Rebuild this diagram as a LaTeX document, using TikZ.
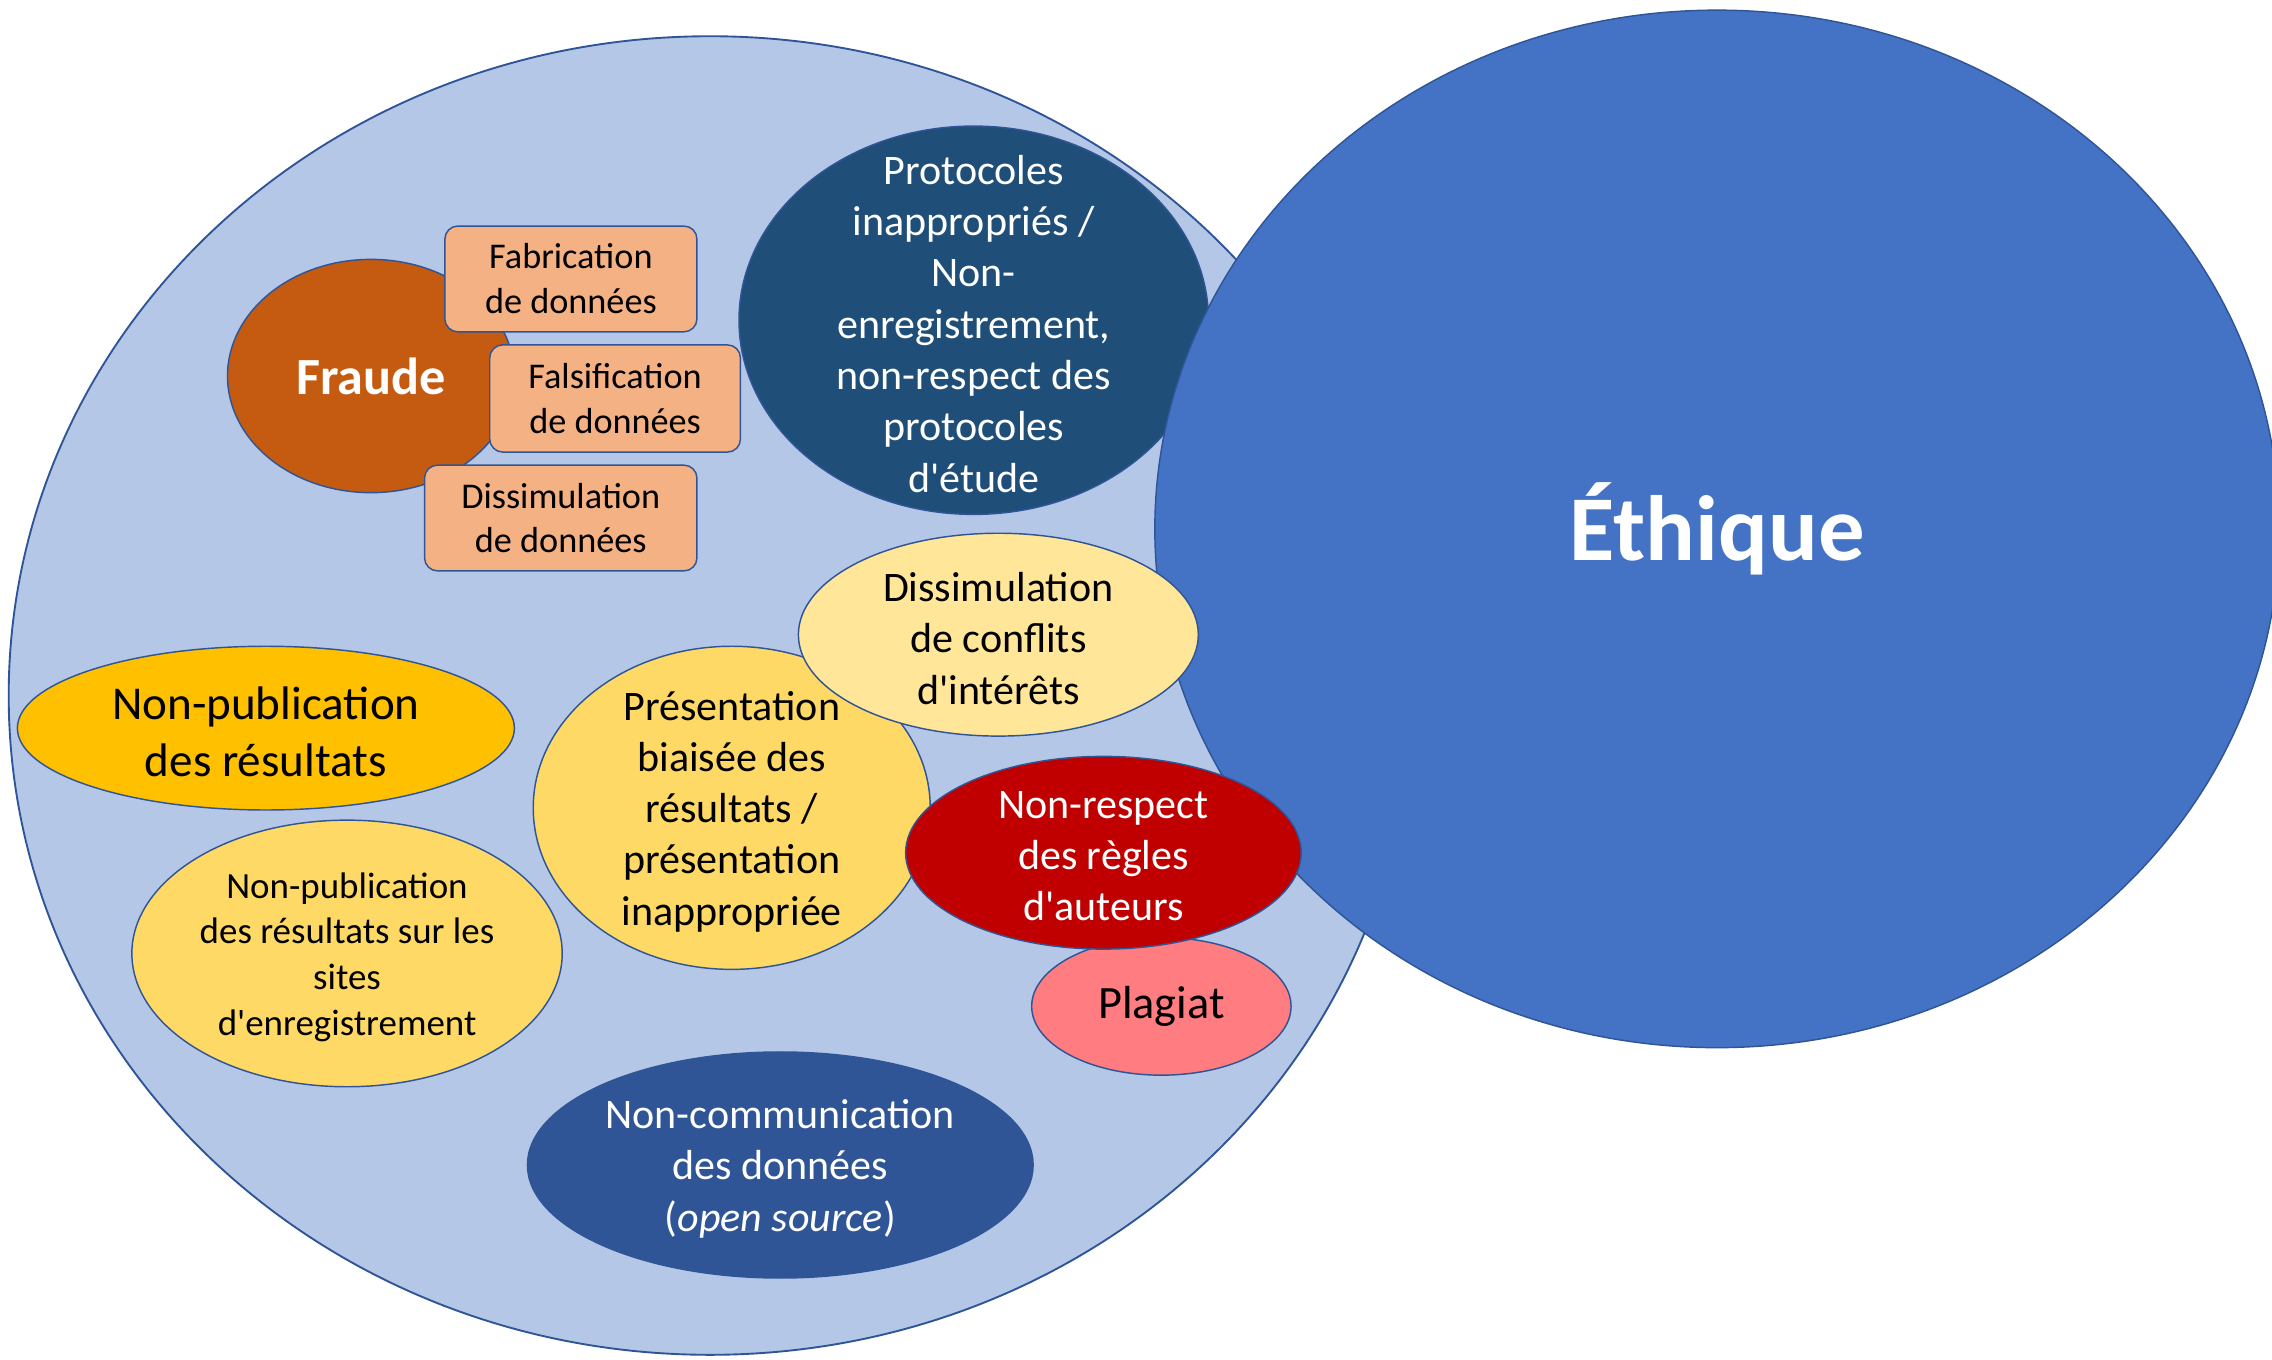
\documentclass[tikz,border=0pt]{standalone}
\usepackage{fontspec}
\setmainfont{Carlito}[Ligatures=TeXOff]
\usetikzlibrary{shapes.geometric}
\definecolor{bgblue}{HTML}{B4C7E7}
\definecolor{bord}{HTML}{2F5597}
\definecolor{eth}{HTML}{4472C4}
\definecolor{fraudec}{HTML}{C55A11}
\definecolor{boxc}{HTML}{F4B183}
\definecolor{protoc}{HTML}{1F4E79}
\definecolor{confc}{HTML}{FFE699}
\definecolor{npubc}{HTML}{FFC000}
\definecolor{presc}{HTML}{FFD966}
\definecolor{nrespc}{HTML}{C00000}
\definecolor{plagc}{HTML}{FF7C80}
\definecolor{ncomc}{HTML}{2F5597}
\newcommand{\fBox}{\fontsize{25}{31}\selectfont}
\newcommand{\fMid}{\fontsize{29}{35.4}\selectfont}
\newcommand{\fBig}{\fontsize{32.5}{39.6}\selectfont}
\newcommand{\fSites}{\fontsize{25.5}{31.5}\selectfont}
\tikzset{
  bub/.style={ellipse, draw=bord, line width=1pt, inner sep=0pt},
  lbl/.style={align=center, inner sep=0pt, yshift=-2.5pt},
  datbox/.style={rectangle, rounded corners=9pt, draw=bord, line width=1pt, fill=boxc, inner sep=0pt, align=center, font=\fBox},
}
\begin{document}
\begin{tikzpicture}[x=1pt,y=-1pt]
\useasboundingbox (0,0) rectangle (1568,938);
\clip (0,0) rectangle (1568,938);
% big light blue area
\node[bub, fill=bgblue, line width=1.3pt, minimum width=968, minimum height=910] (area) at (490,480) {};
% Fraude
\node[bub, fill=fraudec, minimum width=198, minimum height=161, text=white, font=\fontsize{36}{43}\selectfont\bfseries] (fraude) at (256,259.5) {Fraude};
% boxes
\node[datbox, minimum width=174, minimum height=73] (fab) at (394,192.5) {Fabrication\\de données};
\node[datbox, minimum width=173, minimum height=74] (fals) at (424.5,275) {Falsification\\de données};
\node[datbox, minimum width=188, minimum height=73] (diss) at (387,357.5) {Dissimulation\\de données};
% Protocoles
\node[bub, fill=protoc, minimum width=324, minimum height=268] (proto) at (672,221) {};
\node[lbl, text=white, font=\fMid] (protot) at (proto.center) {Protocoles\\inappropriés /\\Non-\\enregistrement,\\non-respect des\\protocoles\\d'étude};
% Ethique
\node[bub, fill=eth, minimum width=776, minimum height=716, text=white, font=\fontsize{64}{77}\selectfont\bfseries] (eth) at (1185,365) {Éthique};
% Non-publication des resultats
\node[bub, fill=npubc, minimum width=343, minimum height=113] (npub) at (183.5,502.5) {};
\node[lbl, font=\fBig] (npubt) at (npub.center) {Non-publication\\des résultats};
% Non-publication sites
\node[bub, fill=presc, minimum width=297, minimum height=184] (nsites) at (239.5,658) {};
\node[lbl, font=\fSites] (nsitest) at (nsites.center) {Non-publication\\des résultats sur les\\sites\\d'enregistrement};
% Presentation biaisee
\node[bub, fill=presc, minimum width=274, minimum height=223] (pres) at (505,557.5) {};
\node[lbl, font=\fMid] (prest) at (pres.center) {Présentation\\biaisée des\\résultats /\\présentation\\inappropriée};
% Dissimulation de conflits
\node[bub, fill=confc, minimum width=276, minimum height=140] (conf) at (689,438) {};
\node[lbl, font=\fMid] (conft) at (conf.center) {Dissimulation\\de conflits\\d'intérêts};
% Plagiat
\node[bub, fill=plagc, minimum width=179, minimum height=95, font=\fontsize{32}{39}\selectfont] (plag) at (801.5,694.5) {Plagiat};
% Non-respect
\node[bub, fill=nrespc, minimum width=273, minimum height=133] (nresp) at (761.5,588.5) {};
\node[lbl, text=white, font=\fMid] (nrespt) at (nresp.center) {Non-respect\\des règles\\d'auteurs};
% Non-communication
\node[bub, draw=ncomc, fill=ncomc, minimum width=349, minimum height=156] (ncom) at (538.5,804) {};
\node[lbl, text=white, font=\fMid] (ncomt) at (ncom.center) {Non-communication\\des données\\(\textit{open source})};
\end{tikzpicture}
\end{document}
